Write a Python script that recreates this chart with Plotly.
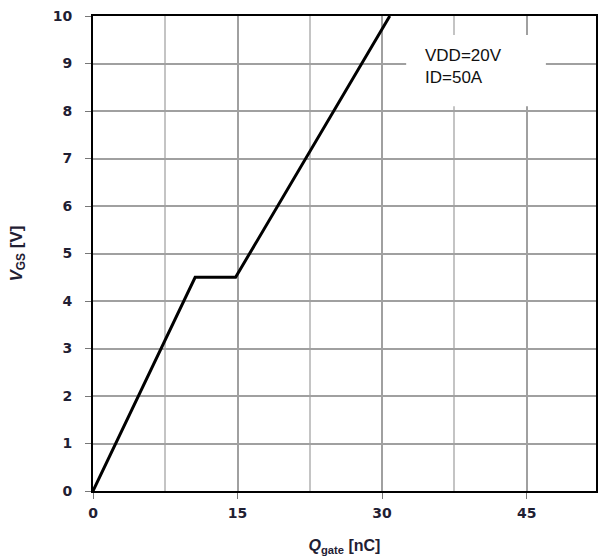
import plotly.graph_objects as go

# Gate charge curve: Q_gate [nC] vs V_GS [V]
q_gate = [0, 10.6, 14.8, 30.8]
v_gs = [0, 4.5, 4.5, 10]

x_ticks = [0, 15, 30, 45]
y_ticks = list(range(0, 11))

tick_font = dict(family="DejaVu Sans, Verdana, sans-serif", size=14, color="#1f2033", weight="bold")
title_family = "Liberation Sans, Arial, sans-serif"

fig = go.Figure()
fig.add_trace(go.Scatter(
    x=q_gate, y=v_gs, mode="lines",
    line=dict(color="black", width=3),
    showlegend=False, hoverinfo="skip",
))

# Test-condition box
fig.add_shape(type="rect", xref="x", yref="y", x0=32.5, x1=47.0, y0=8.1, y1=9.6,
              fillcolor="white", line=dict(width=0), layer="above")
fig.add_annotation(x=34.2, y=8.94, xref="x", yref="y", xanchor="left", yanchor="middle",
                   text="VDD=20V<br>ID=50A", showarrow=False, align="left",
                   font=dict(family=title_family, size=17, color="#111"))

fig.update_xaxes(
    range=[0, 52.2], tickvals=x_ticks, ticktext=[str(v) for v in x_ticks],
    showgrid=True, gridcolor="#a0a0a0", gridwidth=2,
    minor=dict(dtick=7.5, tick0=0, showgrid=True, gridcolor="#c4c4c4", gridwidth=2, ticks=""),
    showline=True, linecolor="black", linewidth=2, mirror=True,
    ticks="outside", ticklen=6, tickcolor="#777", tickwidth=1,
    tickfont=tick_font, zeroline=False, ticklabelstandoff=2,
    title=dict(text="<b><i>Q</i><sub>gate</sub> [nC]</b>",
               font=dict(family=title_family, size=16, color="#1f2033"), standoff=20),
)
fig.update_yaxes(
    range=[0, 10], tickvals=y_ticks,
    showgrid=True, gridcolor="#a0a0a0", gridwidth=2,
    showline=True, linecolor="black", linewidth=2, mirror=True,
    ticks="outside", ticklen=6, tickcolor="#777", tickwidth=1,
    tickfont=tick_font, zeroline=False, ticklabelstandoff=10,
    title=dict(text="<b><i>V</i><sub>GS</sub> [V]</b>",
               font=dict(family=title_family, size=17, color="#1f2033"), standoff=26),
)

fig.update_layout(
    width=600, height=560,
    margin=dict(l=93, r=2, t=16, b=69),
    plot_bgcolor="white", paper_bgcolor="white",
)

fig.write_html("out.html")
